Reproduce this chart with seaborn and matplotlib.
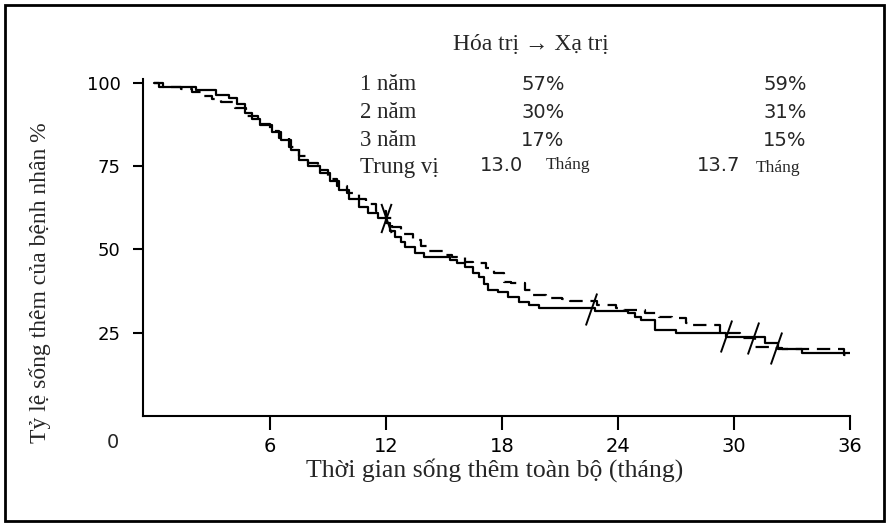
import numpy as np
import pandas as pd
import matplotlib
matplotlib.use("Agg")
import matplotlib.pyplot as plt
from matplotlib.path import Path
from matplotlib.patches import Rectangle
import seaborn as sns

# ---------------- data ----------------
solid_t = [0, 0.5, 2.2, 3.2, 3.9, 4.3, 4.7, 5.1, 5.5, 6.1, 6.6, 7.1, 7.5, 8.0, 8.6, 9.1,
           9.6, 10.1, 10.6, 11.1, 11.6, 12.0, 12.2, 12.5, 12.8, 13.0, 13.5, 14.0, 15.3,
           15.7, 16.1, 16.5, 16.8, 17.1, 17.3, 17.8, 18.3, 18.9, 19.4, 19.9, 22.8, 24.5,
           24.9, 25.2, 25.9, 27.0, 29.6, 31.6, 32.3, 33.5, 36.0]
solid_s = [100, 98.7, 97.7, 96.2, 95.4, 93.5, 90.9, 89.2, 87.3, 85.2, 82.8, 79.8, 76.8, 75.0,
           72.9, 70.5, 67.8, 65.0, 62.7, 61.0, 59.4, 58.0, 55.5, 53.7, 52.2, 50.7, 49.0,
           47.7, 46.8, 45.8, 44.7, 43.0, 41.7, 39.5, 37.8, 37.2, 35.8, 34.2, 33.3, 32.4,
           31.6, 30.9, 29.7, 28.8, 25.8, 24.9, 23.7, 21.9, 20.1, 18.9, 18.9]

dash_t = [0, 0.3, 1.4, 2.0, 2.6, 3.0, 3.5, 4.2, 4.8, 5.4, 6.0, 6.5, 7.0, 7.5, 8.0, 8.5, 9.0,
          9.5, 10.0, 10.6, 11.0, 11.5, 12.0, 12.3, 12.8, 13.4, 13.8, 14.2, 15.1, 15.4, 16.1,
          16.5, 17.2, 17.6, 18.1, 18.5, 19.2, 19.5, 20.3, 21.1, 21.5, 22.9, 23.9, 24.3, 25.4,
          26.1, 26.8, 27.5, 27.9, 29.3, 30.3, 31.1, 31.8, 32.5, 35.7, 36.0]
dash_s = [100, 98.7, 98.0, 97.2, 96.0, 95.0, 94.2, 92.5, 90.0, 87.5, 85.5, 83.5, 80.8, 78.0,
          75.8, 73.8, 71.2, 69.0, 66.8, 65.2, 63.5, 61.5, 59.5, 56.7, 54.5, 52.8, 51.0,
          49.5, 48.3, 47.7, 46.2, 45.9, 44.4, 42.9, 40.2, 39.9, 37.8, 36.3, 35.4, 35.0,
          34.5, 33.3, 32.4, 31.8, 30.9, 29.7, 29.4, 27.9, 27.3, 24.9, 23.5, 20.7, 20.4,
          20.0, 18.3, 18.3]

censor_t = [22.6, 29.6, 31.0, 32.2]
censor_s = [32.0, 24.0, 23.5, 20.5]
cross_t = [12.0]
cross_s = [59.5]

x_ticks = [6, 12, 18, 24, 30, 36]
y_ticks = [25, 50, 75, 100]

title = "Hóa trị \u2192 Xạ trị"
row_labels = ["1 năm", "2 năm", "3 năm", "Trung vị"]
col1_vals = ["57%", "30%", "17%"]
col2_vals = ["59%", "31%", "15%"]
med1, med2 = "13.0", "13.7"
unit = "Tháng"
xlabel = "Thời gian sống thêm toàn bộ (tháng)"
ylabel = "Tỷ lệ sống thêm của bệnh nhân %"

# ---------------- figure ----------------
sns.set_theme(style="white")
plt.rcParams["font.family"] = ["Liberation Serif", "DejaVu Serif"]

W, H = 889, 526
fig = plt.figure(figsize=(W / 100, H / 100), dpi=100)
fig.patch.set_facecolor("white")

def px(x, y):
    return x / W, 1 - y / H

ax = fig.add_axes([143 / W, (H - 416) / H, (850 - 143) / W, (416 - 79.3) / H])
ax.set_facecolor("white")

df_solid = pd.DataFrame({"t": solid_t, "s": solid_s})
df_dash = pd.DataFrame({"t": dash_t, "s": dash_s})
sns.lineplot(data=df_solid, x="t", y="s", ax=ax, color="black", lw=1.6,
             drawstyle="steps-post", estimator=None, sort=False)
sns.lineplot(data=df_dash, x="t", y="s", ax=ax, color="black", lw=1.6,
             drawstyle="steps-post", estimator=None, sort=False,
             linestyle=(0, (6, 3.5)))

slash = Path([(-0.35, -1.0), (0.35, 1.0)], [Path.MOVETO, Path.LINETO])
bslash = Path([(-0.35, 1.0), (0.35, -1.0)], [Path.MOVETO, Path.LINETO])
ax.plot(censor_t, censor_s, ls="none", marker=slash, ms=23, mec="black",
        mfc="none", mew=1.4)
ax.plot(cross_t, cross_s, ls="none", marker=slash, ms=21, mec="black",
        mfc="none", mew=1.4)
ax.plot(cross_t, cross_s, ls="none", marker=bslash, ms=21, mec="black",
        mfc="none", mew=1.4)

ax.set_xlim(-0.55, 36)
ax.set_ylim(0, 101)
ax.set_xticks(x_ticks)
ax.set_yticks(y_ticks)
ax.set_xticklabels([str(v) for v in x_ticks], family=["DejaVu Sans"], fontsize=14)
ax.set_yticklabels([str(v) for v in y_ticks], family=["DejaVu Sans"], fontsize=13)
ax.tick_params(axis="x", direction="out", length=10, width=1.5, pad=5, colors="black")
ax.tick_params(axis="y", direction="out", length=7, width=1.5, pad=9, colors="black")
ax.xaxis.set_ticks_position("bottom")
ax.yaxis.set_ticks_position("left")
for side in ["top", "right"]:
    ax.spines[side].set_visible(False)
for side in ["left", "bottom"]:
    ax.spines[side].set_color("black")
    ax.spines[side].set_linewidth(1.5)
ax.set_xlabel("")
ax.set_ylabel("")

# origin label
fig.text(*px(113, 443), "0", family=["DejaVu Sans"], fontsize=14, ha="center", va="center")

# axis titles
fig.text(*px(495, 477), xlabel, fontsize=18.5, ha="center", va="baseline")
fig.text(*px(40, 283), ylabel, fontsize=17, ha="center", va="center", rotation=90)

# title and table
fig.text(*px(531, 45), title, fontsize=17, ha="center", va="center",
         family=["Liberation Serif", "DejaVu Serif"])
row_y = [84, 112, 140, 167]
for lab, yy in zip(row_labels, row_y):
    fig.text(*px(360, yy), lab, fontsize=16.5, ha="left", va="center")
for v1, v2, yy in zip(col1_vals, col2_vals, row_y[:3]):
    fig.text(*px(543, yy), v1, fontsize=14, ha="center", va="center", family=["DejaVu Sans"])
    fig.text(*px(785, yy), v2, fontsize=14, ha="center", va="center", family=["DejaVu Sans"])
fig.text(*px(501, 166), med1, fontsize=14, ha="center", va="center", family=["DejaVu Sans"])
fig.text(*px(719, 166), med2, fontsize=14, ha="center", va="center", family=["DejaVu Sans"])
fig.text(*px(546, 165), unit, fontsize=12.5, ha="left", va="center")
fig.text(*px(756, 168), unit, fontsize=12.5, ha="left", va="center")

# outer frame
fig.patches.append(Rectangle((5 / W, 5 / H), (W - 10) / W, (H - 10) / H,
                             transform=fig.transFigure, fill=False,
                             edgecolor="black", linewidth=2))

fig.savefig("out.png", dpi=100, facecolor="white")
